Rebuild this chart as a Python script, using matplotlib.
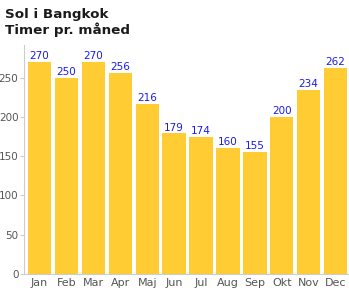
import matplotlib.pyplot as plt

# data
months = ["Jan", "Feb", "Mar", "Apr", "Maj", "Jun", "Jul", "Aug", "Sep", "Okt", "Nov", "Dec"]
hours = [270, 250, 270, 256, 216, 179, 174, 160, 155, 200, 234, 262]
yticks = [0, 50, 100, 150, 200, 250]

BAR_COLOR = "#FFCC33"
GRAY = "#CCCCCC"
TEXT_GRAY = "#555555"


def main():
    fig = plt.figure(figsize=(3.49, 2.91), dpi=100)
    ax = fig.add_axes([0.0688, 0.0584, 0.9312, 0.7886])

    x = range(len(months))
    ax.bar(x, hours, width=0.87, color=BAR_COLOR, zorder=2)
    for xi, v in zip(x, hours):
        ax.text(xi, v + 1, str(v), ha="center", va="bottom",
                fontsize=7.5, color="#1A1AF0")

    ax.set_xlim(-0.58, 11.5)
    ax.set_ylim(0, 292)
    ax.set_xticks(list(x))
    ax.set_xticklabels(months)
    ax.set_yticks(yticks)

    for side in ["top", "right"]:
        ax.spines[side].set_visible(False)
    for side in ["left", "bottom"]:
        ax.spines[side].set_color(GRAY)
        ax.spines[side].set_linewidth(0.8)

    ax.tick_params(axis="y", colors=GRAY, labelcolor=TEXT_GRAY, length=3,
                   width=0.8, labelsize=7.5, pad=1)
    ax.tick_params(axis="x", length=0, labelcolor=TEXT_GRAY, labelsize=8, pad=3)

    fig.text(0.014, 0.972, "Sol i Bangkok\nTimer pr. måned", ha="left", va="top",
             fontsize=9.7, fontweight="bold", color="#1A1A1A", linespacing=1.15)

    fig.savefig("out.png", dpi=100)
    plt.close(fig)


if __name__ == "__main__":
    main()
